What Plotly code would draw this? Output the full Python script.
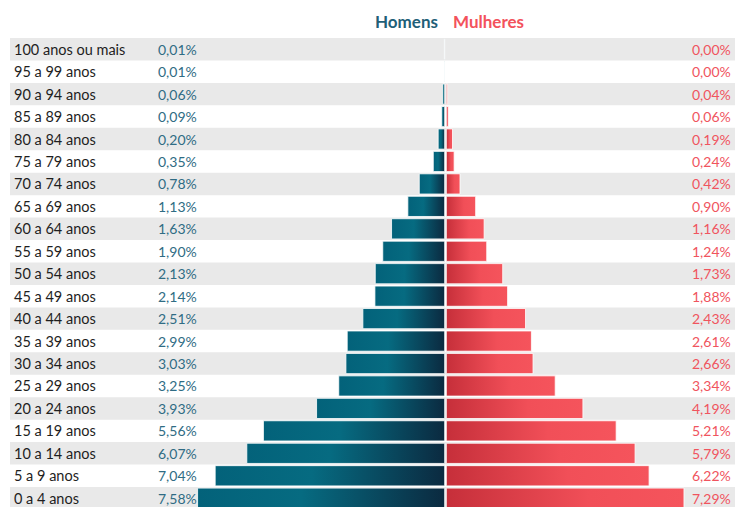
import plotly.graph_objects as go

ages = ["100 anos ou mais", "95 a 99 anos", "90 a 94 anos", "85 a 89 anos", "80 a 84 anos",
        "75 a 79 anos", "70 a 74 anos", "65 a 69 anos", "60 a 64 anos", "55 a 59 anos",
        "50 a 54 anos", "45 a 49 anos", "40 a 44 anos", "35 a 39 anos", "30 a 34 anos",
        "25 a 29 anos", "20 a 24 anos", "15 a 19 anos", "10 a 14 anos", "5 a 9 anos", "0 a 4 anos"]
homens = [0.01, 0.01, 0.06, 0.09, 0.20, 0.35, 0.78, 1.13, 1.63, 1.90, 2.13, 2.14, 2.51, 2.99,
          3.03, 3.25, 3.93, 5.56, 6.07, 7.04, 7.58]
mulheres = [0.00, 0.00, 0.04, 0.06, 0.19, 0.24, 0.42, 0.90, 1.16, 1.24, 1.73, 1.88, 2.43, 2.61,
            2.66, 3.34, 4.19, 5.21, 5.79, 6.22, 7.29]

W, H = 735, 507
ML, MR, MT, MB = 10, 0, 38, 0
PX_PER = 32.6
CENTER_PX = 445.5
ROW_PX = 22.45
xmin = -(CENTER_PX - ML) / PX_PER
xmax = (W - MR - CENTER_PX) / PX_PER
y_bottom = -0.5 + (H - MT - MB) / ROW_PX

def fmt(v):
    return f"{v:.2f}".replace(".", ",") + "%"

male_cs = [[0, "#03627a"], [0.42, "#066b81"], [1, "#0b2a40"]]
female_cs = [[0, "#c62f3a"], [0.6, "#f14f58"], [1, "#f5545c"]]

fig = go.Figure()
gap = 0.025
hh = 0.45
for i, (m, f) in enumerate(zip(homens, mulheres)):
    if m > 0:
        x0, x1 = -m - gap, -gap
        fig.add_trace(go.Scatter(
            x=[x0, x1, x1, x0, x0], y=[i - hh, i - hh, i + hh, i + hh, i - hh],
            mode="lines", fill="toself",
            line=dict(color="rgba(255,255,255,0.8)", width=1),
            fillgradient=dict(type="horizontal", colorscale=male_cs, start=x0, stop=x1),
            hoverinfo="skip", showlegend=False))
    if f > 0:
        x0, x1 = gap, f + gap
        fig.add_trace(go.Scatter(
            x=[x0, x1, x1, x0, x0], y=[i - hh, i - hh, i + hh, i + hh, i - hh],
            mode="lines", fill="toself",
            line=dict(color="rgba(255,255,255,0.8)", width=1),
            fillgradient=dict(type="horizontal", colorscale=female_cs, start=x0, stop=x1),
            hoverinfo="skip", showlegend=False))

shapes = []
for i in range(len(ages)):
    if i % 2 == 0:
        shapes.append(dict(type="rect", xref="paper", yref="y", x0=0, x1=1,
                           y0=i - 0.5, y1=i + 0.5, fillcolor="#e9e9e9",
                           line=dict(width=0), layer="below"))

plot_w = W - ML - MR

def px(xp):
    return (xp - ML) / plot_w

annotations = []
font = "Lato, 'Open Sans', sans-serif"
for i, (a, m, f) in enumerate(zip(ages, homens, mulheres)):
    annotations.append(dict(xref="paper", yref="y", x=px(12), y=i, text=a,
                            xanchor="left", yanchor="middle", showarrow=False,
                            font=dict(family=font, size=14.5, color="#1e1e1e")))
    annotations.append(dict(xref="paper", yref="y", x=px(156), y=i, text=fmt(m),
                            xanchor="left", yanchor="middle", showarrow=False,
                            font=dict(family=font, size=14, color="#2f6c84")))
    annotations.append(dict(xref="paper", yref="y", x=px(733), y=i, text=fmt(f),
                            xanchor="right", yanchor="middle", showarrow=False,
                            font=dict(family=font, size=14, color="#f0545e")))

annotations.append(dict(xref="paper", yref="paper", x=px(440), y=1, yshift=17,
                        text="<b>Homens</b>", xanchor="right", yanchor="middle", showarrow=False,
                        font=dict(family=font, size=17, color="#1f5f78")))
annotations.append(dict(xref="paper", yref="paper", x=px(451), y=1, yshift=17,
                        text="<b>Mulheres</b>", xanchor="left", yanchor="middle", showarrow=False,
                        font=dict(family=font, size=17, color="#f3525c")))

fig.update_layout(
    width=W, height=H,
    margin=dict(l=ML, r=MR, t=MT, b=MB),
    paper_bgcolor="white", plot_bgcolor="white",
    xaxis=dict(range=[xmin, xmax], visible=False, fixedrange=True),
    yaxis=dict(range=[y_bottom, -0.5], visible=False, fixedrange=True),
    shapes=shapes, annotations=annotations, showlegend=False,
)

fig.write_html("out.html", config={"displayModeBar": False},
               post_script="document.body.style.margin='0';document.body.style.overflow='hidden';")
